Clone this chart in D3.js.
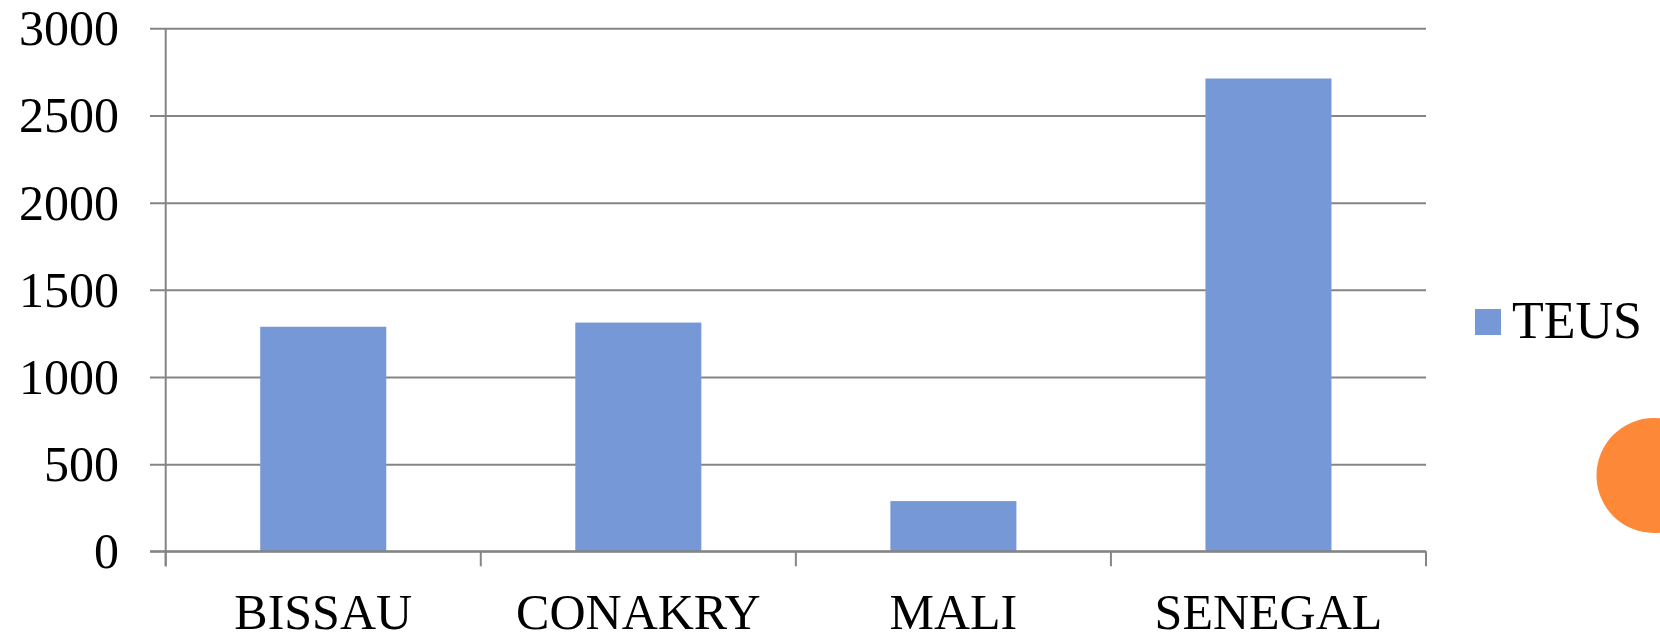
<!DOCTYPE html>
<html>
<head>
<meta charset="utf-8">
<script src="https://cdn.jsdelivr.net/npm/d3@7"></script>
<style>
  html, body { margin: 0; padding: 0; background: #ffffff; }
  svg { display: block; }
  text { font-family: "Liberation Serif", "Times New Roman", serif; fill: #000; }
</style>
</head>
<body>
<svg id="chart" width="1660" height="633"></svg>
<script>
// Container throughput by destination (TEUs)
const categories = ["BISSAU", "CONAKRY", "MALI", "SENEGAL"];
const teus = [1288, 1312, 288, 2712];
const yTicks = [0, 500, 1000, 1500, 2000, 2500, 3000];
const seriesName = "TEUS";

const plotLeft = 165.7, plotRight = 1426, plotTop = 28.3, plotBottom = 551.3;
const gridColor = "#858585";
const barColor = "#7698d7";

const svg = d3.select("#chart");

const x = d3.scaleBand()
  .domain(categories)
  .range([plotLeft, plotRight])
  .paddingInner(0.6)
  .paddingOuter(0.3);

const y = d3.scaleLinear()
  .domain([0, 3000])
  .range([plotBottom, plotTop]);

// Horizontal gridlines with the short tick stubs left of the axis, plus value labels
const yAxis = d3.axisLeft(y)
  .tickValues(yTicks)
  .tickFormat(d3.format("d"))
  .tickSizeInner(-(plotRight - 150))
  .tickSizeOuter(0)
  .tickPadding(31);

const gy = svg.append("g")
  .attr("transform", `translate(150,0)`)
  .call(yAxis);
gy.select(".domain").remove();
gy.selectAll(".tick line").attr("stroke", gridColor).attr("stroke-width", 2);
gy.selectAll(".tick text")
  .attr("font-size", 50)
  .attr("dy", "0.33em")
  .style("font-family", "'Liberation Serif', serif")
  .attr("fill", "#000");

// Bars
svg.append("g")
  .selectAll("rect")
  .data(categories)
  .join("rect")
  .attr("x", d => x(d))
  .attr("width", x.bandwidth())
  .attr("y", (d, i) => y(teus[i]))
  .attr("height", (d, i) => y(0) - y(teus[i]))
  .attr("fill", barColor);

// Vertical axis line, extending below zero
svg.append("line")
  .attr("x1", plotLeft).attr("x2", plotLeft)
  .attr("y1", plotTop).attr("y2", plotBottom + 15)
  .attr("stroke", gridColor).attr("stroke-width", 2);

// Redraw the zero baseline above the bars
svg.append("line")
  .attr("x1", 150).attr("x2", plotRight)
  .attr("y1", y(0)).attr("y2", y(0))
  .attr("stroke", gridColor).attr("stroke-width", 2);

// Category boundary ticks
const step = x.step();
const boundaries = d3.range(categories.length + 1).map(i => plotLeft + i * step);
svg.append("g")
  .selectAll("line")
  .data(boundaries)
  .join("line")
  .attr("x1", d => d).attr("x2", d => d)
  .attr("y1", plotBottom).attr("y2", plotBottom + 15)
  .attr("stroke", gridColor).attr("stroke-width", 2);

// Category labels
const xAxis = d3.axisBottom(x).tickSize(0).tickPadding(0);
const gx = svg.append("g").call(xAxis);
gx.select(".domain").remove();
gx.selectAll(".tick text")
  .attr("y", 629)
  .attr("dy", 0)
  .attr("font-size", 50)
  .style("font-family", "'Liberation Serif', serif")
  .attr("fill", "#000");

// Legend
const legend = svg.append("g");
legend.append("rect")
  .attr("x", 1475).attr("y", 309)
  .attr("width", 26).attr("height", 26)
  .attr("fill", barColor);
legend.append("text")
  .attr("x", 1512).attr("y", 338)
  .attr("font-size", 52)
  .text(seriesName);

// Decorative slide bullet at the right edge
svg.append("circle")
  .attr("cx", 1654).attr("cy", 475.5).attr("r", 57.5)
  .attr("fill", "#fd8837");
</script>
</body>
</html>
